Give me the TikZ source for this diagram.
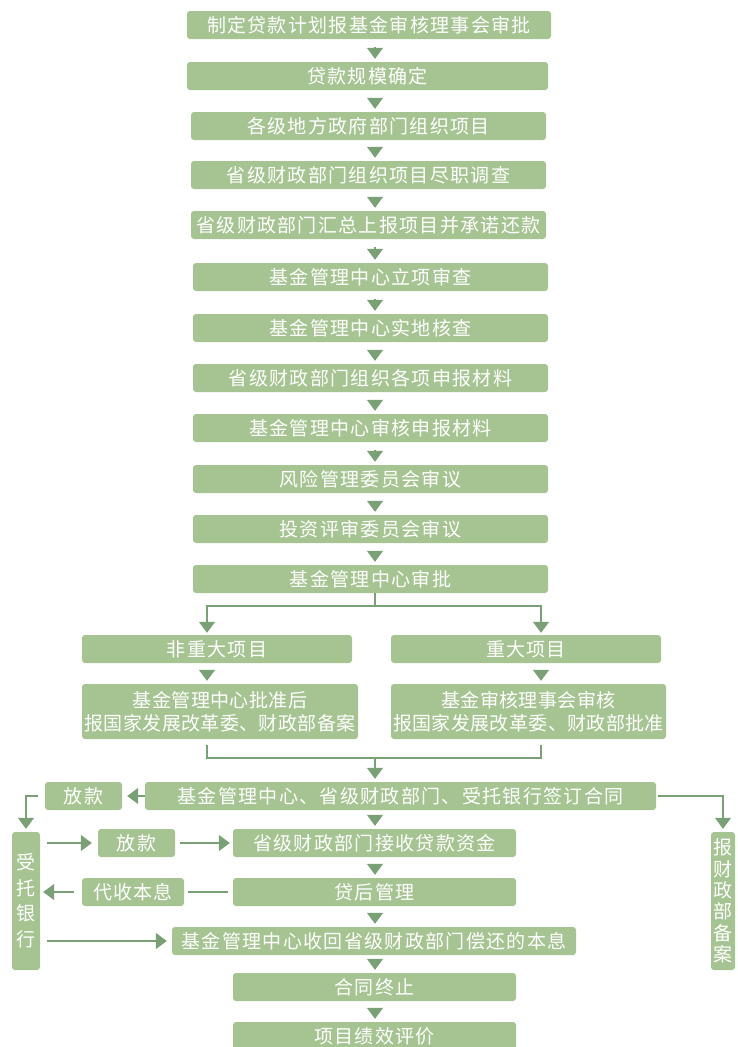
\documentclass[tikz,border=0pt]{standalone}
\usepackage{fontspec}
\setmainfont{Noto Sans CJK SC}[LetterSpace=7]
\usetikzlibrary{arrows.meta}
\definecolor{boxgreen}{RGB}{166,196,146}
\definecolor{arrowgreen}{RGB}{122,160,118}

\begin{document}
\begin{tikzpicture}[x=1pt,y=-1pt,
    box/.style={fill=boxgreen,rounded corners=3pt,text=white,inner sep=0pt,align=center,
        minimum height=28pt,font=\fontsize{19}{23}\selectfont},
    twoline/.style={box,minimum height=55pt,font=\fontsize{19}{23}\selectfont\addfontfeature{LetterSpace=2}},
    upright/.style={box,minimum height=138pt,font=\fontsize{19}{#1}\selectfont\addfontfeature{LetterSpace=0}},
    line/.style={draw=arrowgreen,line width=1.5pt},
    flow/.style={line,-{Triangle[width=16pt,length=11pt]}},
    drop/.style={flow,shorten >=3pt,shorten <=8pt}]
    \useasboundingbox (0,0) rectangle (737,1047);
    \coordinate (spine) at (375,0);
    \coordinate (lcol) at (207,0);
    \coordinate (rcol) at (541,0);
    \coordinate (join) at (375,758);

    % main chain
    \node[box,minimum width=364pt] (plan) at (369,25) {制定贷款计划报基金审核理事会审批};
    \node[box,minimum width=361pt] (size) at (367.5,76) {贷款规模确定};
    \node[box,minimum width=355pt] (local) at (368.5,126) {各级地方政府部门组织项目};
    \node[box,minimum width=355pt] (survey) at (368.5,175) {省级财政部门组织项目尽职调查};
    \node[box,minimum width=355pt] (submit) at (368.5,225) {省级财政部门汇总上报项目并承诺还款};
    \node[box,minimum width=355pt] (setup) at (370.5,277) {基金管理中心立项审查};
    \node[box,minimum width=355pt] (site) at (370.5,328) {基金管理中心实地核查};
    \node[box,minimum width=355pt] (docs) at (370.5,378) {省级财政部门组织各项申报材料};
    \node[box,minimum width=355pt] (check) at (370.5,428) {基金管理中心审核申报材料};
    \node[box,minimum width=355pt] (risk) at (370.5,479) {风险管理委员会审议};
    \node[box,minimum width=355pt] (invest) at (370.5,529) {投资评审委员会审议};
    \node[box,minimum width=355pt] (approve) at (370.5,579) {基金管理中心审批};
    \foreach \a/\b in {plan/size,size/local,local/survey,survey/submit,submit/setup,
        setup/site,site/docs,docs/check,check/risk,risk/invest,invest/approve}
        \draw[drop] (\a.south -| spine) -- (\b.north -| spine);

    % branches
    \node[box,minimum width=270pt] (minor) at (217,649) {非重大项目};
    \node[box,minimum width=270pt] (major) at (526,649) {重大项目};
    \node[twoline,minimum width=276pt] (minorok) at (220,711.5)
        {基金管理中心批准后\\报国家发展改革委、财政部备案};
    \node[twoline,minimum width=275pt] (majorok) at (528.5,711.5)
        {基金审核理事会审核\\报国家发展改革委、财政部批准};
    \draw[flow,shorten >=2pt] (approve.south -| spine) -- ++(0,13) -| (minor.north -| lcol);
    \draw[flow,shorten >=2pt] (approve.south -| spine) -- ++(0,13) -| (major.north -| rcol);
    \draw[drop] (minor.south -| lcol) -- (minorok.north -| lcol);
    \draw[drop] (major.south -| rcol) -- (majorok.north -| rcol);
    \draw[line] (minorok.south -| lcol) ++(0,6) |- (join);
    \draw[line] (majorok.south -| rcol) ++(0,6) |- (join);

    % contract and loan
    \node[box,minimum width=511pt] (sign) at (400.5,796) {基金管理中心、省级财政部门、受托银行签订合同};
    \node[box,minimum width=77pt] (loanA) at (83.5,796) {放款};
    \node[upright=25.5,minimum width=28pt] (bank) at (26,901) {受\\托\\银\\行};
    \node[upright=21.3,minimum width=24pt] (report) at (723,901) {报\\财\\政\\部\\备\\案};
    \node[box,minimum width=77pt] (loanB) at (136.5,843) {放款};
    \node[box,minimum width=283pt] (receive) at (374.5,843) {省级财政部门接收贷款资金};
    \node[box,minimum width=283pt] (manage) at (374.5,892) {贷后管理};
    \node[box,minimum width=102pt] (collect) at (133,892) {代收本息};
    \node[box,minimum width=404pt] (recover) at (374,941) {基金管理中心收回省级财政部门偿还的本息};
    \node[box,minimum width=283pt] (close) at (374.5,987) {合同终止};
    \node[box,minimum width=283pt] (eval) at (374.5,1036) {项目绩效评价};

    \draw[flow,shorten >=3pt] (join) -- (sign.north -| spine);
    \draw[flow,shorten >=5pt] (sign.west) -- (loanA.east);
    \draw[flow,shorten <=7pt,shorten >=3pt] (loanA.west) -| (bank.north);
    \draw[flow,shorten <=2pt,shorten >=3pt] (sign.east) -| (report.north);
    \draw[flow,shorten <=7pt,shorten >=6pt] (bank.east |- loanB) -- (loanB.west);
    \draw[flow,shorten <=5pt,shorten >=3pt] (loanB.east) -- (receive.west);
    \draw[drop] (sign.south -| spine) -- (receive.north -| spine);
    \draw[drop] (receive.south -| spine) -- (manage.north -| spine);
    \draw[line,shorten <=5pt,shorten >=4pt] (manage.west) -- (collect.east);
    \draw[flow,shorten <=8pt,shorten >=3pt] (collect.west) -- (bank.east |- collect);
    \draw[flow,shorten <=7pt,shorten >=5pt] (bank.east |- recover) -- (recover.west);
    \draw[drop] (manage.south -| spine) -- (recover.north -| spine);
    \draw[drop] (recover.south -| spine) -- (close.north -| spine);
    \draw[drop] (close.south -| spine) -- (eval.north -| spine);
\end{tikzpicture}
\end{document}
